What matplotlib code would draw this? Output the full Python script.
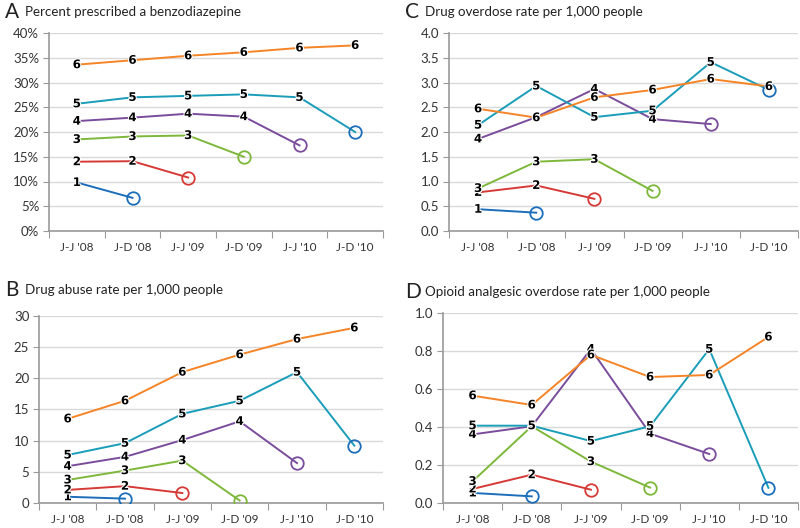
import matplotlib
matplotlib.use("Agg")
import matplotlib.pyplot as plt
import matplotlib.patheffects as pe
from matplotlib.ticker import FixedLocator, NullFormatter, FixedFormatter

periods = ["J-J '08", "J-D '08", "J-J '09", "J-D '09", "J-J '10", "J-D '10"]
cohorts = ["1", "2", "3", "4", "5", "6"]

benzo_pct = [
    [9.8, 6.7],
    [14.0, 14.1, 10.8],
    [18.5, 19.1, 19.3, 15.0],
    [22.2, 22.9, 23.7, 23.1, 17.3],
    [25.7, 27.0, 27.3, 27.6, 27.0, 20.0],
    [33.6, 34.5, 35.4, 36.1, 37.0, 37.5],
]
abuse_rate = [
    [1.0, 0.7],
    [2.1, 2.7, 1.6],
    [3.7, 5.2, 6.8, 0.4],
    [5.9, 7.4, 10.1, 13.1, 6.4],
    [7.7, 9.6, 14.3, 16.4, 21.0, 9.2],
    [13.5, 16.4, 21.0, 23.8, 26.3, 28.1],
]
overdose_rate = [
    [0.44, 0.37],
    [0.78, 0.92, 0.65],
    [0.86, 1.40, 1.45, 0.81],
    [1.86, 2.30, 2.87, 2.26, 2.16],
    [2.14, 2.93, 2.30, 2.43, 3.41, 2.85],
    [2.47, 2.29, 2.70, 2.85, 3.07, 2.92],
]
opioid_rate = [
    [0.053, 0.035],
    [0.074, 0.149, 0.070],
    [0.114, 0.404, 0.218, 0.081],
    [0.361, 0.404, 0.81, 0.365, 0.258],
    [0.407, 0.407, 0.326, 0.404, 0.81, 0.080],
    [0.565, 0.516, 0.78, 0.663, 0.674, 0.874],
]

line_colors = ["#1C6EBA", "#D63A36", "#7DB83A", "#7A4C9C", "#1A9DB8", "#F58426"]
circle_colors = ["#1C6EBA", "#D63A36", "#7DB83A", "#7A4C9C", "#1C6EBA", None]

font = ["Lato", "DejaVu Sans"]
plt.rcParams["font.family"] = font

fig = plt.figure(figsize=(8, 5.28), dpi=100)

panels = [
    ("A", "Percent prescribed a benzodiazepine", benzo_pct, [0.06125, 0.5625, 0.4175, 0.375],
     (0, 40), [0, 5, 10, 15, 20, 25, 30, 35, 40], lambda v: f"{v:.0f}%", (5, 12)),
    ("C", "Drug overdose rate per 1,000 people", overdose_rate, [0.56125, 0.5625, 0.43625, 0.375],
     (0, 4), [0, 0.5, 1.0, 1.5, 2.0, 2.5, 3.0, 3.5, 4.0], lambda v: f"{v:.1f}", (405, 12)),
    ("B", "Drug abuse rate per 1,000 people", abuse_rate, [0.04875, 0.04735, 0.43, 0.3542],
     (0, 30), [0, 5, 10, 15, 20, 25, 30], lambda v: f"{v:.0f}", (5, 290)),
    ("D", "Opioid analgesic overdose rate per 1,000 people", opioid_rate, [0.55375, 0.04735, 0.44375, 0.3598],
     (0, 1.0), [0, 0.2, 0.4, 0.6, 0.8, 1.0], lambda v: f"{v:.1f}", (405, 292)),
]

for letter, title, data, rect, ylim, yticks, fmt, (lx, ly) in panels:
    ax = fig.add_axes(rect)
    ax.set_xlim(-0.5, 5.5)
    ax.set_ylim(*ylim)
    ax.set_yticks(yticks)
    ax.set_yticklabels([fmt(v) for v in yticks])
    ax.xaxis.set_major_locator(FixedLocator([i - 0.5 for i in range(len(periods) + 1)]))
    ax.xaxis.set_major_formatter(NullFormatter())
    ax.xaxis.set_minor_locator(FixedLocator(list(range(len(periods)))))
    ax.xaxis.set_minor_formatter(FixedFormatter(periods))
    ax.tick_params(axis="x", which="major", length=5, color="#999999", direction="out")
    ax.tick_params(axis="x", which="minor", length=0, pad=8, labelsize=8.5, labelcolor="#333333")
    ax.tick_params(axis="y", length=4, color="#999999", labelsize=9.5, labelcolor="#333333", pad=3)
    ax.grid(axis="y", color="#D9D9D9", linewidth=1)
    ax.set_axisbelow(True)
    for s in ["top", "right"]:
        ax.spines[s].set_visible(False)
    for s in ["left", "bottom"]:
        ax.spines[s].set_color("#999999")
        ax.spines[s].set_linewidth(1.2)

    for k, vals in enumerate(data):
        xs = list(range(len(vals)))
        ax.plot(xs, vals, color=line_colors[k], linewidth=1.4, zorder=3)
        cc = circle_colors[k]
        label_n = len(vals) - 1 if cc is not None else len(vals)
        if cc is not None:
            ax.plot([xs[-1]], [vals[-1]], marker="o", markersize=9, markerfacecolor="none",
                    markeredgecolor=cc, markeredgewidth=1.3, linestyle="none", zorder=4)
        for i in range(label_n):
            ax.text(xs[i], vals[i], cohorts[k], ha="center", va="center", fontsize=8.5,
                    fontweight="bold", color="black", zorder=5, family="DejaVu Sans",
                    path_effects=[pe.withStroke(linewidth=1.5, foreground="white")])

    fig.text(lx / 800, 1 - ly / 528, letter, fontsize=15, ha="left", va="center", color="#222222")
    fig.text((lx + 20) / 800, 1 - ly / 528, title, fontsize=9.6, ha="left", va="center", color="#222222")

fig.savefig("out.png", dpi=100)
